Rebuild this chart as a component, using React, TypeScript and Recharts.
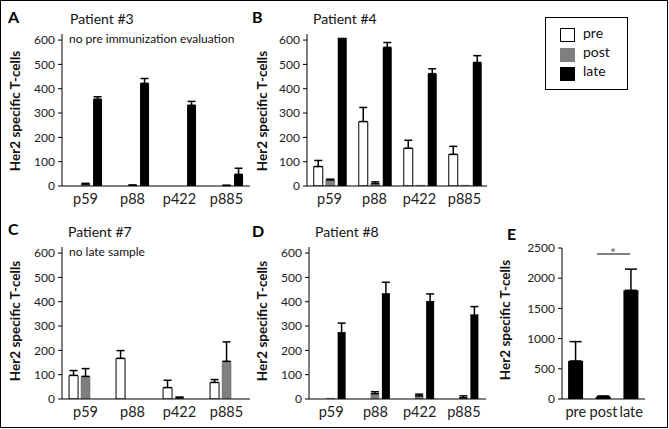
import { Bar, BarChart, ErrorBar, XAxis, YAxis } from "recharts";

const peptides = ["p59", "p88", "p422", "p885"];

// Patient #3 (no pre sample)
const p3Post = [8, 3, null, 2];
const p3PostErr = [3, 1, 0, 1];
const p3Late = [357, 422, 332, 48];
const p3LateErr = [10, 20, 16, 25];

// Patient #4
const p4Pre = [80, 265, 155, 130];
const p4PreErr = [25, 58, 33, 33];
const p4Post = [25, 10, 3, 3];
const p4PostErr = [3, 7, 0, 0];
const p4Late = [610, 570, 462, 508];
const p4LateErr = [0, 20, 20, 28];

// Patient #7 (no late sample)
const p7Pre = [97, 167, 47, 68];
const p7PreErr = [20, 32, 30, 12];
const p7Post = [93, null, 5, 155];
const p7PostErr = [32, 0, 3, 80];

// Patient #8
const p8Post = [3, 22, 13, 5];
const p8PostErr = [0, 8, 7, 8];
const p8Late = [272, 432, 400, 345];
const p8LateErr = [40, 48, 32, 35];

// Summary
const timepoints = ["pre", "post", "late"];
const totals = [630, 40, 1800];
const totalsErr = [320, 10, 350];

const peptideTicks = [0, 100, 200, 300, 400, 500, 600];
const totalTicks = [0, 500, 1000, 1500, 2000, 2500];

const FONT = "Lato, 'Open Sans', sans-serif";
const GREY = "#7f7f7f";

type Num = number | null;

const up = (e: number | undefined) => (e ? [0, e] : undefined);

function build(pre?: Num[], preErr?: number[], post?: Num[], postErr?: number[], late?: Num[], lateErr?: number[]) {
  return peptides.map((name, i) => ({
    name,
    pre: pre ? pre[i] : null,
    preErr: preErr ? up(preErr[i]) : undefined,
    post: post ? post[i] : null,
    postErr: postErr ? up(postErr[i]) : undefined,
    late: late ? late[i] : null,
    lateErr: lateErr ? up(lateErr[i]) : undefined,
  }));
}

type PanelProps = {
  data: ReturnType<typeof build>;
  left: number;
  top: number;
  width: number;
};

function PeptidePanel({ data, left, top, width }: PanelProps) {
  return (
    <div style={{ position: "absolute", left, top }}>
      <BarChart
        width={width}
        height={215}
        data={data}
        margin={{ top: 34, right: 5, left: 0, bottom: 0 }}
        barCategoryGap="15%"
        barGap={3}
      >
        <XAxis
          dataKey="name"
          height={29}
          axisLine={{ stroke: "#000" }}
          tickLine={false}
          tick={{ fontSize: 14.5, fill: "#222" }}
          interval={0}
        />
        <YAxis
          width={62}
          domain={[0, 625]}
          ticks={peptideTicks}
          allowDataOverflow
          axisLine={{ stroke: "#000" }}
          tickLine={{ stroke: "#000" }}
          tickSize={4}
          tickMargin={3}
          tick={{ fontSize: 12, fill: "#222" }}
        />
        <Bar dataKey="pre" fill="#fff" stroke="#000" strokeWidth={1} isAnimationActive={false}>
          <ErrorBar dataKey="preErr" width={4} stroke="#000" direction="y" />
        </Bar>
        <Bar dataKey="post" fill={GREY} stroke="#666" strokeWidth={0.5} isAnimationActive={false}>
          <ErrorBar dataKey="postErr" width={4} stroke="#000" direction="y" />
        </Bar>
        <Bar dataKey="late" fill="#000" isAnimationActive={false}>
          <ErrorBar dataKey="lateErr" width={4} stroke="#000" direction="y" />
        </Bar>
      </BarChart>
    </div>
  );
}

const totalData = timepoints.map((name, i) => ({ name, value: totals[i], err: up(totalsErr[i]) }));

const yLabel = "Her2 specific T-cells";

function YLabel({ x, y }: { x: number; y: number }) {
  return (
    <text
      x={x}
      y={y}
      transform={`rotate(-90 ${x} ${y})`}
      textAnchor="middle"
      dominantBaseline="central"
      fontSize={13.5}
      fontWeight="bold"
      fill="#111"
    >
      {yLabel}
    </text>
  );
}

export default function App() {
  return (
    <div
      style={{
        position: "absolute",
        left: 0,
        top: 0,
        width: 669,
        height: 429,
        background: "#fff",
        fontFamily: FONT,
      }}
    >
      <PeptidePanel data={build(undefined, undefined, p3Post, p3PostErr, p3Late, p3LateErr)} left={0} top={0} width={255} />
      <PeptidePanel data={build(p4Pre, p4PreErr, p4Post, p4PostErr, p4Late, p4LateErr)} left={245} top={0} width={247} />
      <PeptidePanel data={build(p7Pre, p7PreErr, p7Post, p7PostErr)} left={0} top={213} width={255} />
      <PeptidePanel data={build(undefined, undefined, p8Post, p8PostErr, p8Late, p8LateErr)} left={247} top={213} width={244} />

      <div style={{ position: "absolute", left: 500, top: 213 }}>
        <BarChart
          width={150}
          height={215}
          data={totalData}
          margin={{ top: 35, right: 5, left: 0, bottom: 0 }}
          barCategoryGap="22%"
        >
          <XAxis
            dataKey="name"
            height={29}
            axisLine={{ stroke: "#000" }}
            tickLine={false}
            tick={{ fontSize: 14.5, fill: "#222" }}
            interval={0}
          />
          <YAxis
            width={62}
            domain={[0, 2500]}
            ticks={totalTicks}
            axisLine={{ stroke: "#000" }}
            tickLine={{ stroke: "#000" }}
            tickSize={4}
            tickMargin={3}
            tick={{ fontSize: 12, fill: "#222" }}
          />
          <Bar dataKey="value" fill="#000" isAnimationActive={false}>
            <ErrorBar dataKey="err" width={6} stroke="#000" direction="y" />
          </Bar>
        </BarChart>
      </div>

      <svg
        width={669}
        height={429}
        style={{ position: "absolute", left: 0, top: 0, pointerEvents: "none" }}
        fontFamily={FONT}
      >
        <rect x={0.5} y={0.5} width={667} height={427} fill="none" stroke="#000" />

        <g fontSize={16} fontWeight="bold" fill="#000">
          <text x={8} y={23}>A</text>
          <text x={252} y={23}>B</text>
          <text x={8} y={235}>C</text>
          <text x={252} y={237}>D</text>
          <text x={507} y={240}>E</text>
        </g>

        <g fontSize={14} fill="#111">
          <text x={70} y={24}>Patient #3</text>
          <text x={313} y={24}>Patient #4</text>
          <text x={68} y={237}>Patient #7</text>
          <text x={315} y={237}>Patient #8</text>
        </g>

        <g fontSize={12} fill="#111">
          <text x={69} y={43}>no pre immunization evaluation</text>
          <text x={69} y={256}>no late sample</text>
        </g>

        <YLabel x={15} y={111} />
        <YLabel x={262} y={111} />
        <YLabel x={15} y={321} />
        <YLabel x={262} y={321} />
        <YLabel x={505} y={320} />

        <line x1={597} y1={254} x2={630} y2={254} stroke="#000" />
        <text x={613} y={258} fontSize={13} fill="#555" textAnchor="middle">*</text>

        <rect x={545.5} y={17.5} width={82} height={72} fill="#fff" stroke="#000" />
        <rect x={560.5} y={28.5} width={14} height={13} fill="#fff" stroke="#000" />
        <rect x={560} y={48} width={15} height={14} fill={GREY} />
        <rect x={560} y={67} width={15} height={14} fill="#000" />
        <g fontSize={14} fill="#111">
          <text x={583} y={38}>pre</text>
          <text x={583} y={57}>post</text>
          <text x={583} y={76}>late</text>
        </g>
      </svg>
    </div>
  );
}
